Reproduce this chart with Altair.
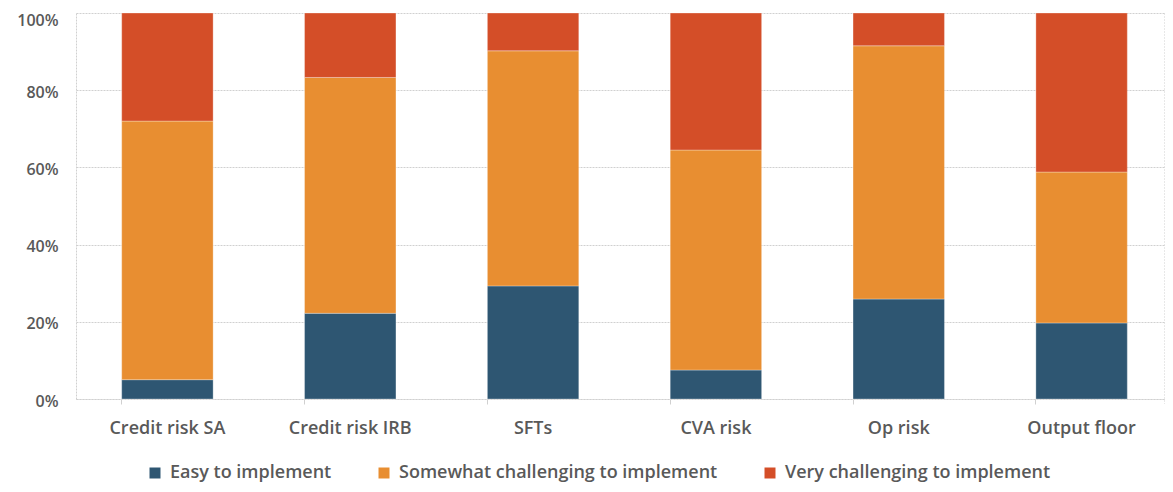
import altair as alt
import pandas as pd

categories = ["Credit risk SA", "Credit risk IRB", "SFTs", "CVA risk", "Op risk", "Output floor"]
series_names = ["Easy to implement", "Somewhat challenging to implement", "Very challenging to implement"]
easy = [5.0, 22.2, 29.3, 7.5, 25.9, 19.7]
somewhat = [67.0, 61.1, 60.9, 57.0, 65.6, 39.1]
very = [28.0, 16.7, 9.8, 35.5, 8.5, 41.2]
colors = ["#2E5672", "#E88E31", "#D44E28"]

rows = []
for i, c in enumerate(categories):
    for k, (name, vals) in enumerate(zip(series_names, [easy, somewhat, very])):
        rows.append({"category": c, "series": name, "value": vals[i], "order": k})
df = pd.DataFrame(rows)

W, H = 1089, 386
FONT = "Open Sans"
GRAY = "#595959"
LINE = "#d0d0d0"

bars = alt.Chart(df).mark_bar(stroke="white", strokeWidth=0.6, strokeOpacity=0.5).encode(
    x=alt.X("category:N", sort=categories, title=None,
            scale=alt.Scale(paddingInner=0.5, paddingOuter=0.25, range=[0, 1097]),
            axis=alt.Axis(labelAngle=0, bandPosition=0, tickSize=5, tickColor=LINE,
                          domainColor=LINE, domainDash=[2, 1], labelPadding=15,
                          labelFontSize=18, labelColor=GRAY, labelFont=FONT, labelFontWeight=600)),
    y=alt.Y("value:Q", stack="normalize", title=None,
            scale=alt.Scale(domain=[0, 1]),
            axis=alt.Axis(format=".0%", values=[0, 0.2, 0.4, 0.6, 0.8, 1.0], tickSize=0,
                          labelPadding=18, labelFontSize=16, labelColor=GRAY, labelFont=FONT,
                          labelFontWeight=600,
                          labelOffset={"condition": {"test": "datum.value >= 1", "value": 7}, "value": 2},
                          grid=True, gridColor=LINE,
                          gridDash=[2, 1], domainColor=LINE, domainDash=[2, 1])),
    color=alt.Color("series:N", sort=series_names,
                    scale=alt.Scale(domain=series_names, range=colors),
                    legend=alt.Legend(title=None, orient="none", direction="horizontal",
                                      legendX=70, legendY=451, symbolType="square",
                                      symbolSize=121, symbolStrokeWidth=0, columnPadding=43,
                                      labelFontSize=18, labelColor=GRAY, labelFont=FONT,
                                      labelFontWeight=600, labelOffset=6, labelLimit=600)),
    order=alt.Order("order:Q", sort="ascending"),
)

edge = alt.Chart(pd.DataFrame({"a": [0]})).mark_rule(color=LINE, strokeDash=[2, 1]).encode(
    x=alt.value(W), y=alt.value(0), y2=alt.value(H + 5)
)

chart = alt.layer(bars, edge).properties(
    width=W, height=H,
    autosize=alt.AutoSizeParams(type="none"),
    padding={"left": 68, "top": 5, "right": 0, "bottom": 85},
).configure_view(stroke=None)

chart.save("out.html", embed_options={"renderer": "svg", "actions": False})
